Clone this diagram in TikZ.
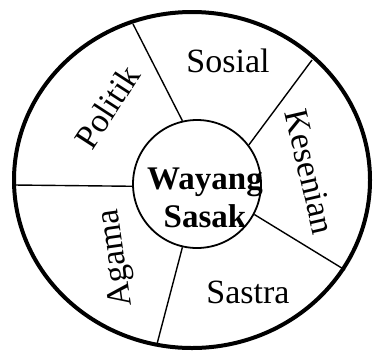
\documentclass[tikz,border=0pt]{standalone}
\usepackage{fontspec}
\setmainfont{Liberation Serif}
\begin{document}
\begin{tikzpicture}[x=1pt,y=-1pt,
  lbl/.style={font=\fontsize{34}{40}\selectfont, inner sep=0pt},
  hubtxt/.style={font=\fontsize{33}{38}\selectfont\bfseries, align=center, inner sep=0pt},
  spoke/.style={line width=1.4pt},
  rim/.style={line width=4pt}]
\useasboundingbox (0,0) rectangle (374,354);
% outer rim
\draw[rim] (192,180) ellipse [x radius=178, y radius=168];
% hub
\node[draw, circle, line width=1.8pt, minimum size=128pt, inner sep=0pt] (hub) at (197,184) {};
\node[hubtxt] (hubtext) at (205,197.5) {Wayang\\Sasak};
% outer ends of the spokes
\coordinate (o1) at (133,24);
\coordinate (o2) at (312,60);
\coordinate (o3) at (345,270);
\coordinate (o4) at (157,344);
\coordinate (o5) at (14,185);
\draw[spoke] (o1) -- (hub.103.6);
\draw[spoke] (o2) -- (hub.37.4);
\draw[spoke] (o3) -- (hub.-28.4);
\draw[spoke] (o4) -- (hub.257.8);
\draw[spoke] (o5) -- (hub.182.8);
% sector labels
\node[lbl] (sosial) at (228,61) {Sosial};
\node[lbl, rotate=-77] (kesenian) at (310,172) {Kesenian};
\node[lbl] (sastra) at (248,292) {Sastra};
\node[lbl, rotate=98] (agama) at (117,258) {Agama};
\node[lbl, rotate=57] (politik) at (107,107) {Politik};
\end{tikzpicture}
\end{document}
